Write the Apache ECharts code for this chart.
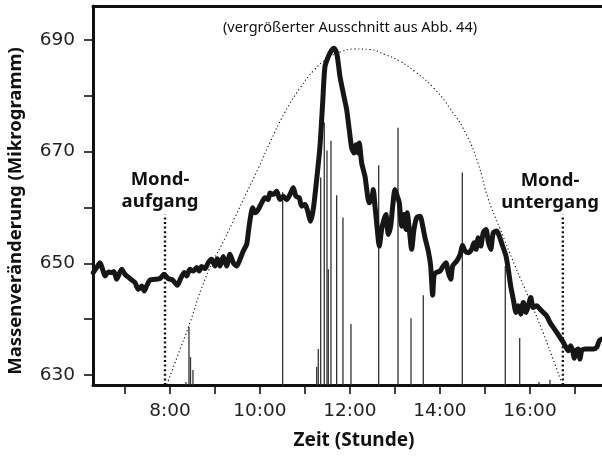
<!DOCTYPE html>
<html><head><meta charset="utf-8">
<script src="https://cdn.jsdelivr.net/npm/echarts@6/dist/echarts.min.js"></script>
<style>html,body{margin:0;padding:0;background:#fff}#c{width:602px;height:457px}</style>
</head><body><div id="c"></div>
<script>
// Mass change curve (hour of day, micrograms)
const massTime = [6.296,6.371,6.444,6.504,6.556,6.629,6.704,6.756,6.816,6.927,7.000,7.111,7.222,7.296,7.371,7.429,7.482,7.556,7.667,7.778,7.867,7.962,8.060,8.162,8.238,8.318,8.371,8.444,8.518,8.593,8.651,8.704,8.778,8.851,8.927,9.000,9.051,9.111,9.184,9.260,9.333,9.407,9.482,9.556,9.629,9.704,9.740,9.793,9.838,9.889,9.962,10.038,10.111,10.184,10.222,10.296,10.371,10.444,10.518,10.593,10.667,10.740,10.800,10.873,10.927,11.000,11.051,11.127,11.184,11.260,11.333,11.393,11.444,11.518,11.593,11.644,11.704,11.740,11.778,11.851,11.927,11.984,12.038,12.089,12.133,12.184,12.207,12.260,12.333,12.429,12.482,12.518,12.556,12.607,12.651,12.704,12.756,12.800,12.851,12.904,12.949,13.000,13.051,13.096,13.149,13.200,13.244,13.273,13.318,13.371,13.422,13.482,13.556,13.616,13.667,13.740,13.793,13.838,13.867,13.911,14.000,14.073,14.133,14.184,14.238,14.282,14.371,14.444,14.504,14.556,14.629,14.704,14.756,14.800,14.851,14.904,14.962,15.022,15.073,15.127,15.184,15.260,15.318,15.393,15.467,15.518,15.571,15.629,15.689,15.740,15.793,15.851,15.911,15.962,16.016,16.073,16.149,16.222,16.296,16.371,16.444,16.518,16.593,16.667,16.740,16.800,16.851,16.904,16.949,16.984,17.022,17.073,17.111,17.149,17.222,17.333,17.407,17.482,17.540,17.600];
const massValue = [648.34,649.23,650.12,648.93,647.73,648.45,648.34,648.52,647.14,648.93,648.04,647.27,646.55,645.36,645.95,645.05,645.95,647.02,647.14,647.27,648.04,647.27,647.02,646.07,647.27,648.34,647.73,648.93,648.62,649.23,648.62,649.41,649.05,650.12,650.71,649.52,650.84,649.52,651.20,649.52,651.61,650.12,649.52,650.71,652.20,653.39,655.48,658.45,659.95,659.05,659.64,660.84,661.73,661.43,662.62,662.32,662.91,661.43,662.02,661.43,662.32,663.52,662.02,661.73,660.23,660.54,659.64,657.55,659.64,665.00,670.95,678.70,685.23,687.02,688.21,688.52,687.63,685.84,683.45,680.48,677.50,673.93,670.66,669.77,671.25,669.77,671.55,667.98,665.59,660.84,661.43,663.21,660.23,656.07,653.09,656.07,657.86,658.75,655.18,656.66,660.23,663.21,662.02,660.84,656.66,658.75,656.07,659.05,656.07,652.50,656.07,658.16,658.45,656.66,654.59,652.20,649.52,644.29,647.73,648.34,648.62,649.52,650.12,648.34,647.14,649.52,650.41,651.50,653.21,652.20,651.91,652.50,653.70,652.50,654.59,653.09,655.48,656.07,653.88,652.50,655.48,655.77,654.88,653.09,651.30,648.93,645.95,643.57,641.20,642.38,640.89,642.98,641.20,642.38,643.88,642.09,642.38,641.79,641.20,640.59,639.41,638.52,637.63,636.73,635.84,634.95,634.34,635.23,634.34,632.98,634.34,634.64,632.86,634.34,634.64,634.64,634.64,634.95,636.13,636.43];

// Thin vertical spikes
const spikeTime  = [8.356,8.422,8.456,8.511,10.504,11.260,11.296,11.349,11.429,11.489,11.518,11.578,11.704,11.844,12.022,12.638,13.067,13.356,13.629,14.496,15.451,15.771,16.200,16.444];
const spikeValue = [628.75,638.57,633.21,630.89,662.73,631.43,634.64,665.36,675.23,670.23,648.93,671.96,662.20,658.21,639.11,667.55,674.29,640.18,644.29,666.25,649.52,636.61,628.75,629.16];

// Dotted arc
const arcTime  = [7.93,8.15,8.45,8.70,8.96,9.18,9.46,9.70,9.95,10.22,10.55,10.89,11.20,11.50,11.80,12.10,12.44,12.78,13.11,13.45,13.85,14.22,14.59,14.85,15.07,15.33,15.67,16.00,16.30,16.56,16.70];
const arcValue = [628.3,633.0,639.5,645.5,650.4,653.8,658.5,662.6,666.8,671.6,677.0,681.4,684.6,686.7,687.9,688.4,688.3,687.4,686.2,684.3,681.5,677.8,673.0,667.8,661.6,656.3,649.5,643.3,637.4,631.8,628.7];

// Moonrise / moonset markers
const moonTimes = [7.89, 16.73];
const moonLineTop = 658.75;
const moonLabels = ['Mond-\naufgang', 'Mond-\nuntergang'];

const xTickHours = [7,8,9,10,11,12,13,14,15,16,17];
const xLabelHours = [8,10,12,14,16];
const yTicks = [630,640,650,660,670,680,690];
const yLabels = [630,650,670,690];
const xMin = 6.29, xMax = 17.6, yMin = 628.2, yMax = 696.1;

const chart = echarts.init(document.getElementById('c'), null, {renderer:'canvas'});
const tickFont = 'DejaVu Sans';

const moonSeries = moonTimes.map(t => ({
  type:'line', data:[[t, yMin],[t, moonLineTop]], symbol:'none', silent:true, z:3,
  lineStyle:{color:'#111', width:2.4, type:[2,2.6]}
}));

chart.setOption({
  animation:false,
  backgroundColor:'#fff',
  grid:{left:93, right:0, top:6, bottom:72, containLabel:false},
  xAxis:[{
    type:'value', min:xMin, max:xMax,
    axisLine:{show:true, lineStyle:{color:'#111', width:3}},
    axisTick:{show:true, customValues:xTickHours, length:9, lineStyle:{color:'#111', width:1.6}},
    axisLabel:{customValues:xLabelHours, formatter:v=>Math.round(v)+':00', margin:17,
      fontFamily:tickFont, fontSize:18.5, color:'#222'},
    splitLine:{show:false}
  },{
    type:'value', position:'top', min:xMin, max:xMax,
    axisLine:{show:true, lineStyle:{color:'#111', width:3}},
    axisTick:{show:false}, axisLabel:{show:false}, splitLine:{show:false}
  }],
  yAxis:{
    type:'value', min:yMin, max:yMax,
    axisLine:{show:true, lineStyle:{color:'#111', width:3}},
    axisTick:{show:true, customValues:yTicks, length:9, lineStyle:{color:'#111', width:1.6}},
    axisLabel:{customValues:yLabels, margin:18, fontFamily:tickFont, fontSize:18.5, color:'#222'},
    splitLine:{show:false}
  },
  series:[
    {type:'bar', data:spikeTime.map((t,i)=>[t, spikeValue[i]]), barWidth:1.3, barGap:'-100%',
      itemStyle:{color:'#333'}, silent:true, z:2},
    {type:'line', data:arcTime.map((t,i)=>[t, arcValue[i]]), smooth:true, symbol:'none', silent:true, z:3,
      lineStyle:{color:'#111', width:1.1, type:[1.2,2.6]}},
    ...moonSeries,
    {type:'line', data:massTime.map((t,i)=>[t, massValue[i]]), smooth:0.25, symbol:'none', silent:true, z:5,
      lineStyle:{color:'#161616', width:5, join:'round', cap:'round'}}
  ],
  graphic:[
    {type:'text', x:350, y:28, style:{text:'(vergrößerter Ausschnitt aus Abb. 44)', font:'14.5px "Noto Sans"', fill:'#111', align:'center', verticalAlign:'middle'}},
    {type:'text', x:160, y:191, style:{text:moonLabels[0], font:'bold 18.5px "Noto Sans"', lineHeight:22, fill:'#111', align:'center', verticalAlign:'middle'}},
    {type:'text', x:550, y:192, style:{text:moonLabels[1], font:'bold 18.5px "Noto Sans"', lineHeight:22, fill:'#111', align:'center', verticalAlign:'middle'}},
    {type:'text', x:354, y:441, style:{text:'Zeit (Stunde)', font:'bold 19px "Noto Sans"', fill:'#111', align:'center', verticalAlign:'middle'}},
    {type:'text', x:16, y:211, rotation:Math.PI/2, style:{text:'Massenveränderung (Mikrogramm)', font:'bold 18.5px "Noto Sans"', fill:'#111', align:'center', verticalAlign:'middle'}}
  ]
});
</script>
</body></html>
